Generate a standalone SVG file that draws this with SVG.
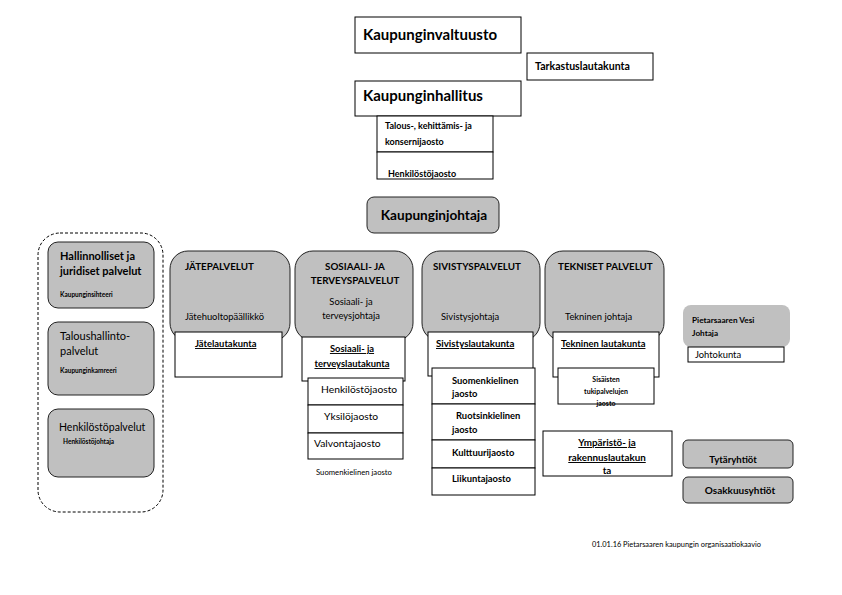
<svg xmlns="http://www.w3.org/2000/svg" width="842" height="595" viewBox="0 0 842 595">
<style>
text{font-family:Lato,"Liberation Sans",sans-serif;fill:#000}
.w{fill:#fff;stroke:#000;stroke-width:1}
.g{fill:#c0c0c0;stroke:#222;stroke-width:1}
.b{font-weight:bold}
.u{text-decoration:underline}
.c{text-anchor:middle}
.h{font-size:9.8px;font-weight:bold}
.s9{font-size:9.4px}
.t{font-size:10.3px}
.s7{font-size:7px}
</style>
<rect width="842" height="595" fill="#fff"/>
<g id="connectors"></g>
<g id="valtuusto"><rect class="w" x="355" y="17" width="166" height="36"/><text class="b" x="363" y="40" font-size="15">Kaupunginvaltuusto</text></g>
<g id="tarkastus"><rect class="w" x="527" y="53" width="126" height="27"/><text class="b" x="535" y="70" font-size="10.6">Tarkastuslautakunta</text></g>
<g id="hallitus"><rect class="w" x="355" y="81" width="166" height="35"/><text class="b" x="363" y="101" font-size="15">Kaupunginhallitus</text></g>
<g id="jaostot"><rect class="w" x="377" y="116" width="116" height="36"/><rect class="w" x="377" y="152" width="116" height="27"/>
<text class="b" font-size="9" x="385" y="129">Talous-, kehittämis- ja</text><text class="b" font-size="9" x="385" y="145">konsernijaosto</text><text class="b" font-size="9" x="388" y="177">Henkilöstöjaosto</text></g>
<g id="johtaja"><rect class="g" x="367" y="197" width="132" height="36" rx="7"/><text class="b c" x="434" y="220" font-size="13.6">Kaupunginjohtaja</text></g>
<g id="hallinto"><rect x="38" y="233" width="125" height="279" rx="22" fill="none" stroke="#000" stroke-dasharray="3,2"/>
<rect class="g" x="48" y="242" width="106" height="66" rx="10"/>
<text class="b" font-size="11" x="60" y="260">Hallinnolliset ja</text><text class="b" font-size="11" x="60" y="275">juridiset palvelut</text><text class="b" x="60" y="297" font-size="6.5">Kaupunginsihteeri</text>
<rect class="g" x="48" y="322" width="106" height="73" rx="10"/>
<text font-size="11" x="60" y="340">Taloushallinto-</text><text font-size="11" x="60" y="355">palvelut</text><text class="b" x="60" y="373" font-size="6.5">Kaupunginkamreeri</text>
<rect class="g" x="48" y="409" width="106" height="68" rx="10"/>
<text font-size="10.5" x="59" y="431">Henkilöstöpalvelut</text><text class="b" x="63" y="444" font-size="6.5">Henkilöstöjohtaja</text></g>
<g id="jate"><rect class="g" x="170" y="251" width="120" height="90" rx="18"/>
<text class="h" x="185" y="270">JÄTEPALVELUT</text><text class="s9" x="185" y="320">Jätehuoltopäällikkö</text>
<rect class="w" x="175" y="332" width="107" height="45"/><text class="b u s9" x="195" y="347">Jätelautakunta</text></g>
<g id="sote"><rect class="g" x="295" y="251" width="118" height="90" rx="18"/>
<text class="h c" x="355" y="270">SOSIAALI- JA</text><text class="h c" x="355" y="284">TERVEYSPALVELUT</text>
<text class="s9 c" x="351" y="305">Sosiaali- ja</text><text class="s9 c" x="351" y="319">terveysjohtaja</text>
<rect class="w" x="302" y="337" width="103" height="44"/><text class="b u s9 c" x="352" y="352">Sosiaali- ja</text><text class="b u s9 c" x="352" y="367">terveyslautakunta</text>
<rect class="w" x="308" y="378" width="95" height="27"/><rect class="w" x="308" y="405" width="95" height="28"/><rect class="w" x="308" y="433" width="95" height="26"/>
<text class="t" x="321" y="393">Henkilöstöjaosto</text><text class="t" x="324" y="420">Yksilöjaosto</text><text class="t" x="314" y="447">Valvontajaosto</text>
<text class="c" font-size="7.7" x="354" y="475">Suomenkielinen jaosto</text></g>
<g id="sivistys"><rect class="g" x="422" y="251" width="118" height="90" rx="18"/>
<text class="h" x="433" y="270">SIVISTYSPALVELUT</text><text class="s9" x="441" y="320">Sivistysjohtaja</text>
<rect class="w" x="428" y="332" width="105" height="44"/><text class="b u" font-size="9.7" x="436" y="347">Sivistyslautakunta</text>
<rect class="w" x="432" y="368" width="103" height="36"/><rect class="w" x="432" y="404" width="103" height="36"/><rect class="w" x="432" y="440" width="103" height="28"/><rect class="w" x="432" y="468" width="103" height="27"/>
<text class="b s9" x="452" y="384">Suomenkielinen</text><text class="b s9" x="452" y="397">jaosto</text>
<text class="b s9" x="456" y="419">Ruotsinkielinen</text><text class="b s9" x="452" y="433">jaosto</text>
<text class="b s9" x="452" y="456">Kulttuurijaosto</text><text class="b s9" x="452" y="482">Liikuntajaosto</text></g>
<g id="tekniset"><rect class="g" x="545" y="251" width="119" height="90" rx="18"/>
<text class="h" x="558" y="270">TEKNISET PALVELUT</text><text class="s9" x="565" y="320">Tekninen johtaja</text>
<rect class="w" x="553" y="332" width="106" height="45"/><text class="b u s9" x="561" y="347">Tekninen lautakunta</text>
<rect class="w" x="558" y="368" width="96" height="36"/>
<text class="b c" x="606" y="382" font-size="7">Sisäisten</text><text class="b c" x="606" y="394" font-size="7">tukipalvelujen</text><text class="b c" x="606" y="406" font-size="7">jaosto</text>
<rect class="w" x="543" y="431" width="129" height="45"/>
<text class="b u c" font-size="9.8" x="607" y="446">Ympäristö- ja</text><text class="b u c" font-size="9.8" x="607" y="461">rakennuslautakun</text><text class="b c" font-size="9.8" x="607" y="474">ta</text></g>
<g id="vesi"><rect x="683" y="305" width="107" height="42" rx="8" fill="#c0c0c0"/>
<text class="b" font-size="8.2" x="692" y="323">Pietarsaaren Vesi</text><text class="b" font-size="8.2" x="692" y="336">Johtaja</text>
<rect class="w" x="688" y="347" width="96" height="15"/><text class="s9" x="695" y="358">Johtokunta</text></g>
<g id="tytar"><rect class="g" x="683" y="440" width="110" height="28" rx="5"/><text class="b c" font-size="9.6" x="733" y="463">Tytäryhtiöt</text></g>
<g id="osakkuus"><rect class="g" x="683" y="477" width="110" height="26" rx="5"/><text class="b c" font-size="10" x="740" y="494">Osakkuusyhtiöt</text></g>
<text x="592" y="547" font-size="7.4">01.01.16 Pietarsaaren kaupungin organisaatiokaavio</text>
</svg>
